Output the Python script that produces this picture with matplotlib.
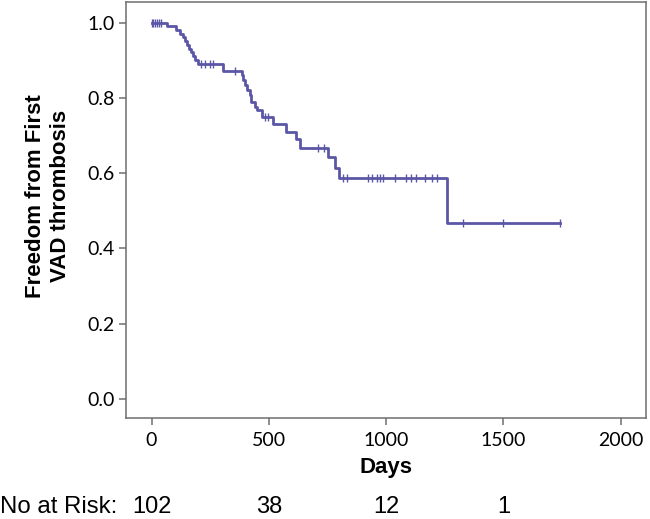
import matplotlib
matplotlib.use("Agg")
import matplotlib.pyplot as plt
import numpy as np

# Kaplan-Meier steps (days, survival after the step)
event_days = [68, 106, 121, 135, 142, 150, 160, 168, 177, 185, 199, 305,
              386, 391, 398, 405, 419, 426, 440, 448, 469, 519, 573, 618,
              632, 753, 782, 798, 1261]
surv_after = [0.990, 0.980, 0.971, 0.961, 0.951, 0.941, 0.931, 0.922, 0.912,
              0.902, 0.889, 0.872, 0.860, 0.848, 0.834, 0.821, 0.808, 0.790,
              0.777, 0.768, 0.750, 0.731, 0.710, 0.690, 0.668, 0.644, 0.615,
              0.586, 0.469]
censor_days = [0, 8, 16, 24, 32, 40, 210, 227, 249, 263, 355, 483, 497, 711,
               735, 817, 832, 924, 938, 962, 974, 988, 1038, 1084, 1106, 1127,
               1166, 1194, 1215, 1326, 1497, 1741]
end_day = 1741

risk_days = [0, 500, 1000, 1500]
risk_counts = ["102", "38", "12", "1"]

line_color = "#5b57a6"
spine_color = "#6e6e6e"

fig = plt.figure(figsize=(6.5, 5.19), dpi=100)
ax = fig.add_axes([0.1934, 0.1946, 0.8004, 0.8015])

xs = [0] + event_days + [end_day]
ys = [1.0] + surv_after + [surv_after[-1]]
ax.step(xs, ys, where="post", color=line_color, lw=2.0)

# censor marks at the curve level
ev = np.array(event_days)
sv = np.array([1.0] + surv_after)
cy = [sv[np.searchsorted(ev, d, side="right")] for d in censor_days]
ax.plot(censor_days, cy, ls="none", marker="|", ms=6, mew=1.0, color=line_color)

ax.set_xlim(-110, 2108)
ax.set_ylim(-0.0505, 1.055)
ax.set_xticks([0, 500, 1000, 1500, 2000])
ax.set_yticks([0.0, 0.2, 0.4, 0.6, 0.8, 1.0])
ax.set_yticklabels(["0.0", "0.2", "0.4", "0.6", "0.8", "1.0"])
for s in ax.spines.values():
    s.set_color(spine_color)
    s.set_linewidth(1.1)
ax.tick_params(length=5, width=1.1, color=spine_color, labelsize=14, pad=3)
ax.tick_params(axis="x", pad=5)
for lab in ax.get_xticklabels() + ax.get_yticklabels():
    lab.set_family("Lato")

fig.text(48 / 650, 1 - 196 / 519, "Freedom from First\nVAD thrombosis",
         rotation=90, ha="center", va="center", multialignment="center",
         fontsize=16, fontweight="bold", family="Liberation Sans", linespacing=1.2)
fig.text(386 / 650, 1 - 467 / 519, "Days", ha="center", va="center",
         fontsize=16, fontweight="bold", family="Liberation Sans")

fig.text(0.0, 1 - 507 / 519, "No at Risk:", ha="left", va="center",
         fontsize=17.3, family="Liberation Sans")
for d, n in zip(risk_days, risk_counts):
    xf = fig.transFigure.inverted().transform(ax.transData.transform((d, 0)))[0]
    fig.text(xf, 1 - 507 / 519, n, ha="center", va="center",
             fontsize=17, family="Liberation Sans")

fig.savefig("out.png", dpi=100)
